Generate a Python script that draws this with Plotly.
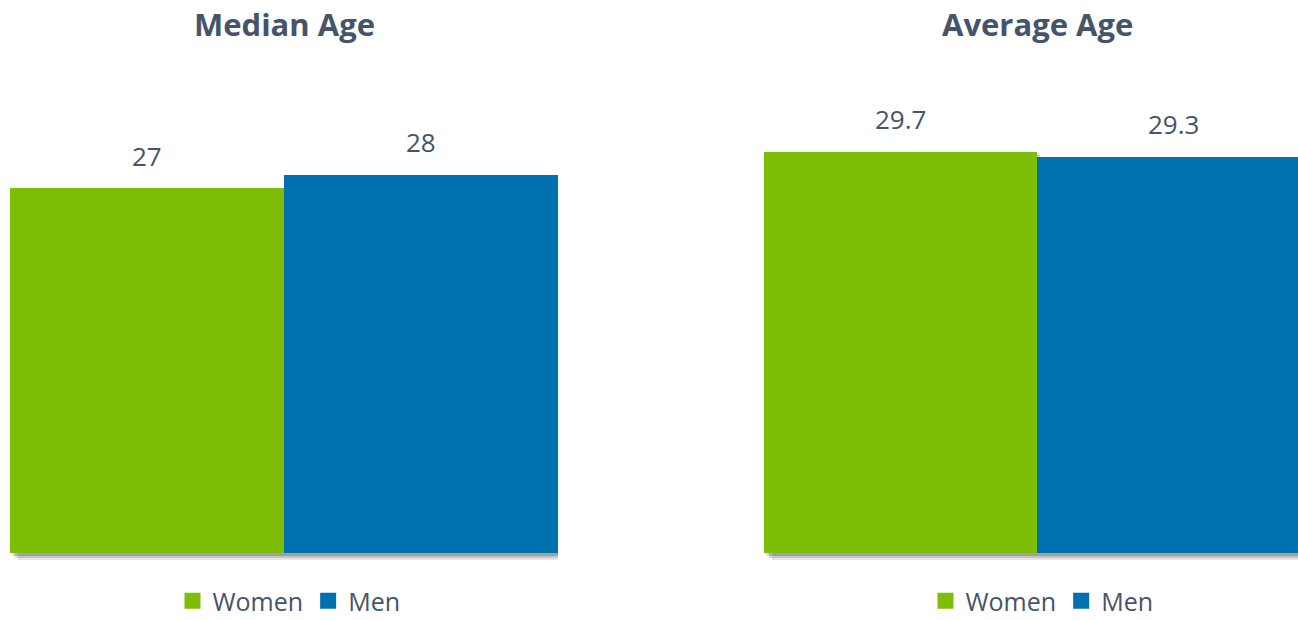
import plotly.graph_objects as go

# ---- data ----
panels = ["Median Age", "Average Age"]
series = ["Women", "Men"]
median_age = [27, 28]
average_age = [29.7, 29.3]
colors = ["#7FBE06", "#0071AF"]

TEXT = "#44546A"
FONT = "Open Sans"

fig = go.Figure()

axes = [("x", "y", median_age, "legend"), ("x2", "y2", average_age, "legend2")]
for xa, ya, vals, lg in axes:
    # soft drop shadows (drawn first so bars sit on top)
    for dx, db, op in [(0.030, -0.55, 0.10), (0.020, -0.40, 0.14), (0.010, -0.25, 0.18)]:
        for s, v in zip(series, vals):
            fig.add_trace(go.Bar(
                x=[s], y=[v], base=[db], xaxis=xa, yaxis=ya,
                offset=-0.5 + dx, width=1.0,
                marker=dict(color=f"rgba(0,0,0,{op})", line=dict(width=0)),
                showlegend=False, hoverinfo="skip",
            ))
    for s, v, c in zip(series, vals, colors):
        fig.add_trace(go.Bar(
            x=[s], y=[v], xaxis=xa, yaxis=ya, name=s,
            marker=dict(color=c, line=dict(width=0)),
            offset=-0.5, width=1.0, showlegend=False,
        ))
        # legend entry with a larger square swatch
        fig.add_trace(go.Scatter(
            x=[None], y=[None], xaxis=xa, yaxis=ya, name=s, mode="markers",
            marker=dict(symbol="square", size=18, color=c, line=dict(width=0)),
            legend=lg, showlegend=True, hoverinfo="skip",
        ))
        fig.add_annotation(
            x=s, y=v, xref=xa, yref=ya, text=str(v), showarrow=False,
            yanchor="bottom", yshift=12,
            font=dict(family=FONT, size=26, color=TEXT),
        )

W, H = 1298, 620
ydom = [54.5 / H, 486.5 / H]
yr = [-1, 31]

leg_common = dict(orientation="h", xanchor="center", y=19 / H, yanchor="middle",
                  font=dict(family=FONT, size=25, color=TEXT), traceorder="normal",
                  itemsizing="trace", itemwidth=30)

fig.update_layout(
    width=W, height=H,
    margin=dict(l=0, r=0, t=0, b=0, autoexpand=False),
    paper_bgcolor="white", plot_bgcolor="white",
    barmode="overlay", bargap=0,
    font=dict(family=FONT, color=TEXT),
    xaxis=dict(domain=[10 / W, 558 / W], range=[-0.5, 1.5], visible=False,
               categoryorder="array", categoryarray=series),
    xaxis2=dict(domain=[764 / W, 1.0], range=[-0.5, 1.456], visible=False,
                categoryorder="array", categoryarray=series),
    yaxis=dict(domain=ydom, range=yr, visible=False),
    yaxis2=dict(domain=ydom, range=yr, visible=False, anchor="x2"),
    legend=dict(x=289 / W, **leg_common),
    legend2=dict(x=1042 / W, **leg_common),
)

for title, cx in zip(panels, [284, 1037]):
    fig.add_annotation(
        x=cx / W, y=1 - 24 / H, xref="paper", yref="paper", text=f"<b>{title}</b>",
        showarrow=False, xanchor="center", yanchor="middle",
        font=dict(family=FONT, size=31, color=TEXT),
    )

post = (
    "document.documentElement.style.overflow='hidden';"
    "document.body.style.margin='0';"
    "document.body.style.overflow='hidden';"
)

fig.write_html(
    "out.html",
    config={"displayModeBar": False},
    post_script=post,
)
